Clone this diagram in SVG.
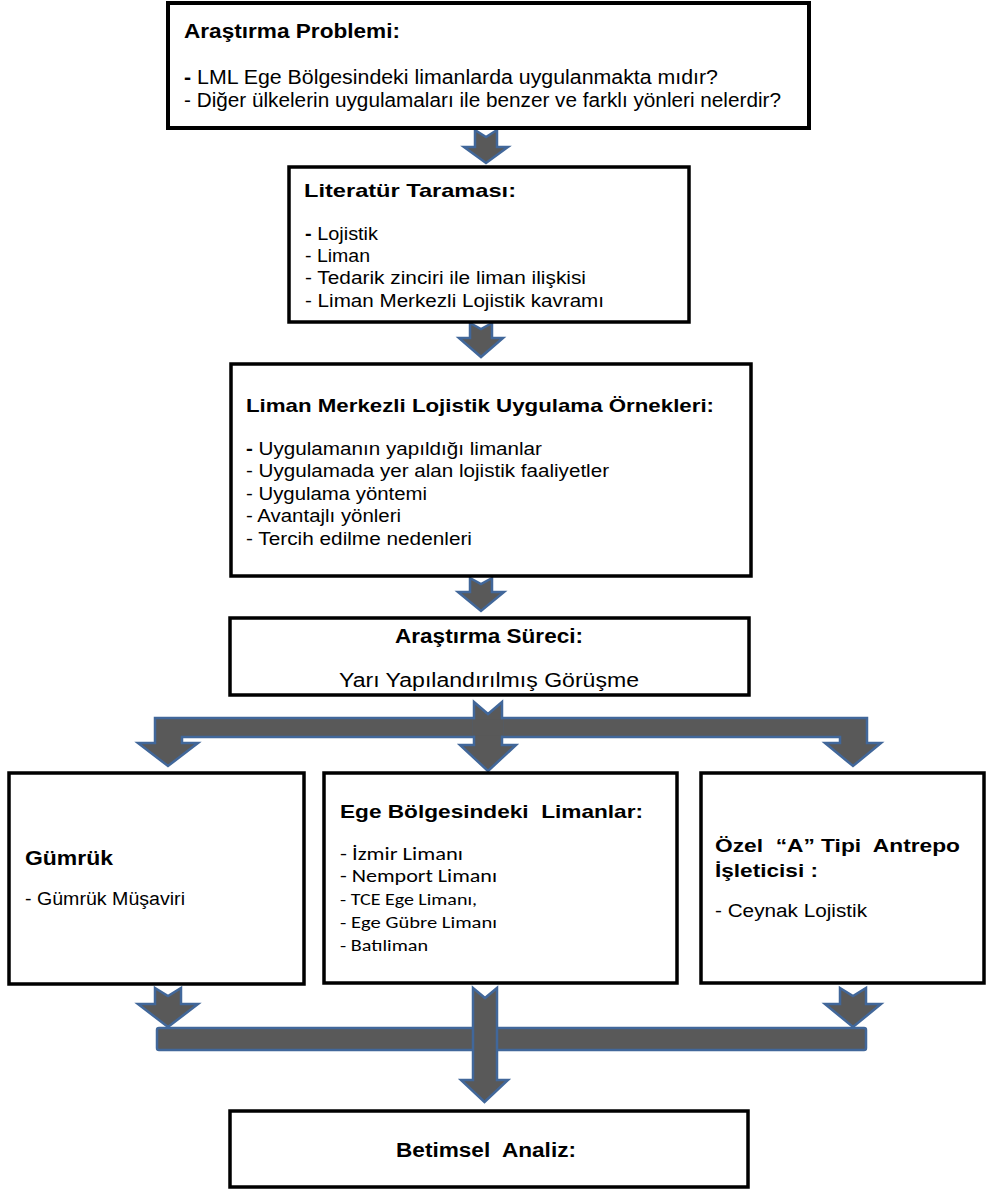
<svg xmlns="http://www.w3.org/2000/svg" width="988" height="1189" viewBox="0 0 988 1189">
<style>
.box{fill:#fff;stroke:#000;stroke-width:3.5}
.arr{fill:#595959;stroke:#41679a;stroke-width:2.5;stroke-linejoin:miter}
text{white-space:pre;fill:#000}
.n{font-family:"Liberation Sans Narrow","Liberation Sans",Arial,sans-serif}
.r{font-family:"Liberation Sans",Arial,sans-serif}
.c{font-family:Carlito,Lato,"Open Sans",sans-serif}
.b{font-weight:bold}
</style>
<rect width="988" height="1189" fill="#fff"/>
<g id="connectors">
<polygon class="arr" points="475,130 486,137 497,130 497,147 508,147 486,163 464,147 475,147"/>
<polygon class="arr" points="470,323 481,329 492,323 492,338 503,338 481,357 459,338 470,338"/>
<polygon class="arr" points="470,578 481,584 492,578 492,592 504,592 481,611 458,592 470,592"/>
<path class="arr" d="M155,718 L867,718 L867,743 L881,743 L853,766 L825,743 L840,743 L840,737 L182,737 L182,743 L198,743 L168,766 L138,743 L155,743 Z"/>
<polygon class="arr" points="474,702 488,714 502,702 502,745 516,745 488,771 460,745 474,745"/>
<rect x="472.5" y="719.4" width="31" height="16.2" fill="#595959"/>
<polygon class="arr" points="155,988 168,996 181,988 181,1004 198,1004 168,1027 138,1004 155,1004"/>
<polygon class="arr" points="840,988 853,996 866,988 866,1004 881,1004 853,1027 825,1004 840,1004"/>
<rect class="arr" x="157" y="1028" width="709" height="22" rx="2"/>
<polygon class="arr" points="473,988 485,998 497,988 497,1080 508,1080 484.5,1102 461,1080 473,1080"/>
</g>
<g id="node-problem">
<rect class="box" x="168" y="3" width="641" height="125" style="stroke-width:4"/>
<text class="n b" x="184" y="38" font-size="20" textLength="216" lengthAdjust="spacingAndGlyphs">Araştırma Problemi:</text>
<text class="n" x="184" y="84" font-size="19.5" lengthAdjust="spacingAndGlyphs" textLength="534"><tspan class="b">-</tspan> LML Ege Bölgesindeki limanlarda uygulanmakta mıdır?</text>
<text class="n" x="184" y="107" font-size="19.5" textLength="597" lengthAdjust="spacingAndGlyphs">- Diğer ülkelerin uygulamaları ile benzer ve farklı yönleri nelerdir?</text>
</g>
<g id="node-literatur">
<rect class="box" x="289" y="167" width="400" height="155"/>
<text class="r b" x="304" y="197" font-size="19" textLength="212" lengthAdjust="spacingAndGlyphs">Literatür Taraması:</text>
<text class="r" x="305" y="240" font-size="17.5" textLength="73" lengthAdjust="spacingAndGlyphs"><tspan class="b">-</tspan> Lojistik</text>
<text class="r" x="305" y="262" font-size="17.5" textLength="65" lengthAdjust="spacingAndGlyphs">- Liman</text>
<text class="r" x="305" y="284" font-size="17.5" textLength="281" lengthAdjust="spacingAndGlyphs">- Tedarik zinciri ile liman ilişkisi</text>
<text class="r" x="305" y="307" font-size="17.5" textLength="299" lengthAdjust="spacingAndGlyphs">- Liman Merkezli Lojistik kavramı</text>
</g>
<g id="node-ornekler">
<rect class="box" x="231" y="364" width="520" height="212"/>
<text class="r b" x="246" y="412" font-size="19" textLength="468" lengthAdjust="spacingAndGlyphs">Liman Merkezli Lojistik Uygulama Örnekleri:</text>
<text class="r" x="246" y="455" font-size="17.5" textLength="296" lengthAdjust="spacingAndGlyphs"><tspan class="b">-</tspan> Uygulamanın yapıldığı limanlar</text>
<text class="r" x="246" y="477" font-size="17.5" textLength="363" lengthAdjust="spacingAndGlyphs">- Uygulamada yer alan lojistik faaliyetler</text>
<text class="r" x="246" y="500" font-size="17.5" textLength="181" lengthAdjust="spacingAndGlyphs">- Uygulama yöntemi</text>
<text class="r" x="246" y="522" font-size="17.5" textLength="155" lengthAdjust="spacingAndGlyphs">- Avantajlı yönleri</text>
<text class="r" x="246" y="545" font-size="17.5" textLength="226" lengthAdjust="spacingAndGlyphs">- Tercih edilme nedenleri</text>
</g>
<g id="node-surec">
<rect class="box" x="230" y="618" width="519" height="77"/>
<text class="n b" x="489" y="643" font-size="20" text-anchor="middle" textLength="188" lengthAdjust="spacingAndGlyphs">Araştırma Süreci:</text>
<text class="n" x="489" y="687" font-size="20" text-anchor="middle" textLength="300" lengthAdjust="spacingAndGlyphs">Yarı Yapılandırılmış Görüşme</text>
</g>
<g id="node-gumruk">
<rect class="box" x="9" y="773" width="295" height="211"/>
<text class="r b" x="25" y="865" font-size="20" textLength="88" lengthAdjust="spacingAndGlyphs">Gümrük</text>
<text class="r" x="25" y="905" font-size="18" textLength="160" lengthAdjust="spacingAndGlyphs">- Gümrük Müşaviri</text>
</g>
<g id="node-ege">
<rect class="box" x="324" y="773" width="353" height="210"/>
<text class="r b" x="340" y="818" font-size="19" textLength="303" lengthAdjust="spacingAndGlyphs">Ege Bölgesindeki  Limanlar:</text>
<text class="c" x="340" y="860" font-size="19" textLength="123" lengthAdjust="spacingAndGlyphs">- İzmir Limanı</text>
<text class="c" x="340" y="882" font-size="19" textLength="157" lengthAdjust="spacingAndGlyphs">- Nemport Limanı</text>
<text class="c" x="340" y="905" font-size="17" textLength="137" lengthAdjust="spacingAndGlyphs">- TCE Ege Limanı,</text>
<text class="c" x="340" y="928" font-size="17" textLength="157" lengthAdjust="spacingAndGlyphs">- Ege Gübre Limanı</text>
<text class="c" x="340" y="951" font-size="17" textLength="88" lengthAdjust="spacingAndGlyphs">- Batıliman</text>
</g>
<g id="node-antrepo">
<rect class="box" x="701" y="773" width="283" height="210"/>
<text class="r b" x="715" y="852" font-size="19" textLength="245" lengthAdjust="spacingAndGlyphs">Özel  “A” Tipi  Antrepo</text>
<text class="r b" x="715" y="877" font-size="19" textLength="103" lengthAdjust="spacingAndGlyphs">İşleticisi :</text>
<text class="r" x="715" y="917" font-size="18" textLength="152" lengthAdjust="spacingAndGlyphs">- Ceynak Lojistik</text>
</g>
<g id="node-analiz">
<rect class="box" x="230" y="1111" width="518" height="76"/>
<text class="n b" x="486" y="1157" font-size="20" text-anchor="middle" textLength="180" lengthAdjust="spacingAndGlyphs">Betimsel  Analiz:</text>
</g>
</svg>
